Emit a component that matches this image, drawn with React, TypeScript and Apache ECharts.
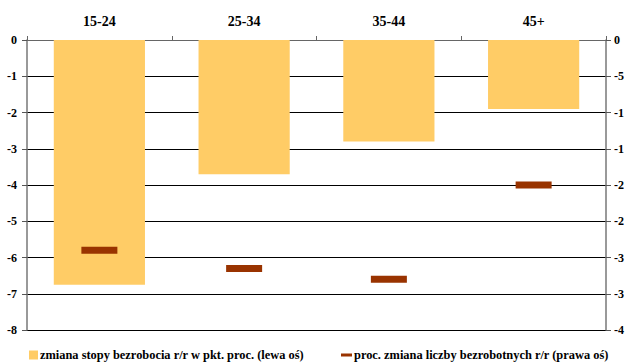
import React, { useEffect, useRef } from "react";
import * as echarts from "echarts";

const categories = ["15-24", "25-34", "35-44", "45+"];
const rateChange = [-6.75, -3.7, -2.8, -1.9];
const unemployedChange = [-2.9, -3.15, -3.3, -2.0];
const rightTickLabels: Record<string, string> = {
  "0": "0",
  "-0.5": "-5",
  "-1": "-1",
  "-1.5": "-1",
  "-2": "-2",
  "-2.5": "-2",
  "-3": "-3",
  "-3.5": "-3",
  "-4": "-4",
};
const seriesNames = [
  "zmiana stopy bezrobocia r/r w pkt. proc. (lewa oś)",
  "proc. zmiana liczby bezrobotnych r/r (prawa oś)",
];

const FONT = "serif";

export default function App() {
  const ref = useRef<HTMLDivElement>(null);
  useEffect(() => {
    if (!ref.current) return;
    const chart = echarts.init(ref.current, null, { renderer: "svg" });
    const textStyle = { fontFamily: FONT, fontWeight: "bold" as const, color: "#000" };
    chart.setOption({
      animation: false,
      backgroundColor: "#fff",
      textStyle: { fontFamily: FONT },
      grid: { left: 27, right: 20, top: 40, bottom: 33, containLabel: false },
      legend: [
        {
          data: [{ name: seriesNames[0], icon: "rect" }],
          left: 29,
          top: 349,
          padding: 0,
          itemWidth: 9,
          itemHeight: 9,
          itemGap: 4,
          textStyle: { ...textStyle, fontSize: 12.4, padding: [0, 0, 0, -3] },
        },
        {
          data: [{ name: seriesNames[1], icon: "rect" }],
          left: 341,
          top: 349,
          padding: 0,
          itemWidth: 11,
          itemHeight: 3,
          textStyle: { ...textStyle, fontSize: 12.4, padding: [0, 0, 0, -3] },
        },
      ],
      xAxis: {
        type: "category",
        data: categories,
        position: "top",
        axisLine: { show: true, lineStyle: { color: "#666", width: 1 } },
        axisTick: { show: true, inside: false, length: 4, lineStyle: { color: "#666" } },
        axisLabel: { ...textStyle, fontSize: 14, margin: 12 },
        splitLine: { show: false },
      },
      yAxis: [
        {
          type: "value",
          min: -8,
          max: 0,
          interval: 1,
          axisLine: { show: true, lineStyle: { color: "#777", width: 1.5 } },
          axisTick: { show: true, length: 5, lineStyle: { color: "#555" } },
          axisLabel: { ...textStyle, fontSize: 12, margin: 10 },
          splitLine: { show: true, lineStyle: { color: "#000", width: 1 } },
        },
        {
          type: "value",
          min: -4,
          max: 0,
          interval: 0.5,
          position: "right",
          axisLine: { show: true, lineStyle: { color: "#777", width: 1.5 } },
          axisTick: { show: true, length: 5, lineStyle: { color: "#555" } },
          axisLabel: {
            ...textStyle,
            fontSize: 12,
            margin: 8,
            formatter: (v: number) => rightTickLabels[String(v)] ?? String(v),
          },
          splitLine: { show: false },
        },
      ],
      series: [
        {
          name: seriesNames[0],
          type: "bar",
          yAxisIndex: 0,
          data: rateChange,
          barCategoryGap: "37%",
          itemStyle: { color: "#FFCC66" },
        },
        {
          name: seriesNames[1],
          type: "scatter",
          yAxisIndex: 1,
          data: unemployedChange,
          symbol: "rect",
          symbolSize: [36, 7],
          itemStyle: { color: "#993300", opacity: 1 },
          z: 5,
        },
      ],
    });
    return () => chart.dispose();
  }, []);
  return <div ref={ref} style={{ width: 627, height: 363, position: "absolute", left: 0, top: 0 }} />;
}
